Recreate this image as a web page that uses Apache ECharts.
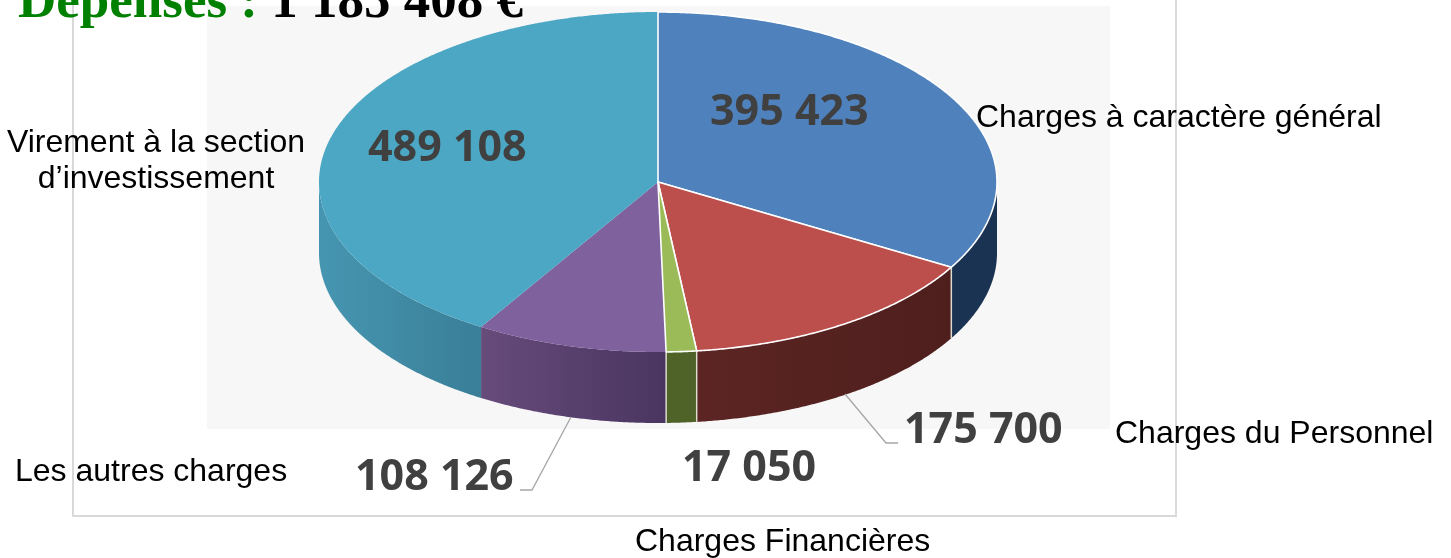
<!DOCTYPE html>
<html><head><meta charset="utf-8">
<style>html,body{margin:0;padding:0;background:#fff}#c{width:1451px;height:558px}</style>
<script src="https://cdn.jsdelivr.net/npm/echarts@6/dist/echarts.min.js"></script>
</head><body><div id="c"></div>
<script>
const categories = ['Charges à caractère général','Charges du Personnel','Charges Financières','Les autres charges','Virement à la section\nd’investissement'];
const values = [395423,175700,17050,108126,489108];
const titleLabel = 'Dépenses : ';
const titleAmount = '1 185 408 €';
const topColors = ['#4f81bd','#bc4e4c','#9bbb59','#7f619e','#4ba7c3'];
const sideFrom = ['#1b3352','#5c2523','#4f6228','#664b7b','#4696b1'];
const sideTo = ['#1b3352','#4e1f1d','#4f6228','#4a3560','#3a7e98'];
const rimStroke = [true,true,true,false,false];

const geo = {cx:658, cy:182, rx:339, ry:170, depth:71};
const total = values.reduce((a,b)=>a+b,0);
const starts = []; values.reduce((s,v,i)=>{starts[i]=s;return s+v;},0);
const ang = f => f/total*Math.PI*2;
const pt = (a,dy) => [geo.cx+geo.rx*Math.sin(a), geo.cy-geo.ry*Math.cos(a)+(dy||0)];
const arc = (a0,a1,dy) => { const n=Math.max(2,Math.ceil((a1-a0)/0.006)), r=[]; for(let k=0;k<=n;k++) r.push(pt(a0+(a1-a0)*k/n,dy)); return r; };

function renderItem(params, api){
  const i = params.dataIndex, v = api.value(0);
  const a0 = ang(starts[i]), a1 = ang(starts[i]+v);
  const ch = [];
  const s0 = Math.max(a0,Math.PI/2), s1 = Math.min(a1,Math.PI*1.5);
  if(s1>s0){
    const pts = arc(s0,s1,0).concat(arc(s0,s1,geo.depth).reverse());
    ch.push({type:'polygon',z2:1,shape:{points:pts},style:{
      fill:{type:'linear',x:0,y:0,x2:1,y2:0,colorStops:[{offset:0,color:i===0?sideTo[i]:sideFrom[i]},{offset:1,color:i===0?sideFrom[i]:sideTo[i]}]},stroke:null}});
    if(rimStroke[i] && a1<Math.PI*1.5 && a1>Math.PI/2){
      const p=pt(a1,0);
      ch.push({type:'line',z2:3,shape:{x1:p[0],y1:p[1],x2:p[0],y2:p[1]+geo.depth},style:{stroke:'#dcdccf',lineWidth:1.5}});
    }
  }
  ch.push({type:'polygon',z2:rimStroke[i]?12:10,shape:{points:[[geo.cx,geo.cy]].concat(arc(a0,a1,0))},
    style:{fill:topColors[i],stroke:rimStroke[i]?'#ffffff':null,lineWidth:1.6,lineJoin:'round'}});
  return {type:'group',children:ch};
}

const fmt = v => String(v).replace(/\B(?=(\d{3})+$)/g,' ');
const nameFont = {fontFamily:'"Liberation Sans"',fontSize:32,fill:'#000'};
const valFont = {fontFamily:'"Open Sans"',fontWeight:'bold',fontSize:43,fill:'#404040'};
const txt = (x,y,text,base,align) => ({type:'text',x,y,z:20,style:Object.assign({},base,{text,align:align||'left',verticalAlign:'middle',lineHeight:36})});

const chart = echarts.init(document.getElementById('c'),null,{renderer:'canvas'});
chart.setOption({
  animation:false,
  backgroundColor:'#fff',
  graphic:[
    {type:'rect',z:-2,shape:{x:73,y:-20,width:1103,height:536},style:{fill:'#fff',stroke:'#d9d9d9',lineWidth:2}},
    {type:'rect',z:-1,shape:{x:207,y:6,width:903,height:423},style:{fill:'#f7f7f7'}},
    {type:'polyline',z:5,shape:{points:[[571,417],[532,490],[520,490]]},style:{stroke:'#a6a6a6',lineWidth:1.3,fill:null}},
    {type:'polyline',z:5,shape:{points:[[845,394],[886,443],[898,443]]},style:{stroke:'#a6a6a6',lineWidth:1.3,fill:null}},
    txt(976,118,categories[0],nameFont),
    txt(1115,434,categories[1],nameFont),
    txt(635,542,categories[2],nameFont),
    txt(15,472,categories[3],nameFont),
    txt(156,161,categories[4],nameFont,'center'),
    txt(710,113,fmt(values[0]),valFont),
    txt(904,431,fmt(values[1]),valFont),
    txt(682,469,fmt(values[2]),valFont),
    txt(355,478,fmt(values[3]),valFont),
    txt(368,149,fmt(values[4]),valFont),
    {type:'text',x:18,y:30,z:20,style:{text:'{a|'+titleLabel+'}{b|'+titleAmount+'}',verticalAlign:'bottom',
      rich:{a:{fontFamily:'"Liberation Serif"',fontWeight:'bold',fontSize:53,fill:'#008000',color:'#008000'},
            b:{fontFamily:'"Liberation Serif"',fontWeight:'bold',fontSize:53,fill:'#000',color:'#000'}}}}
  ],
  series:[{type:'custom',coordinateSystem:'none',renderItem,data:values.map((v,i)=>({value:[v],name:categories[i]})),silent:true}]
});
</script></body></html>
